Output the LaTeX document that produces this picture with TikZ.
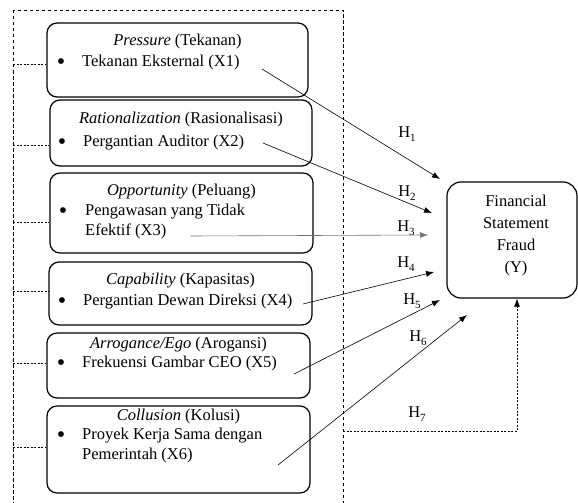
\documentclass[tikz,border=0pt]{standalone}
\usepackage{fontspec}
\setmainfont{Liberation Serif}
\usetikzlibrary{arrows.meta}
\begin{document}
\begin{tikzpicture}[x=1pt,y=-1pt,
  every node/.style={font=\fontsize{16.5}{19}\selectfont, inner sep=0pt},
  box/.style={draw, line width=1.2pt, rounded corners=10pt},
  yvar/.style={draw, line width=1.2pt, rounded corners=14pt},
  outer/.style={dash pattern=on 3.5pt off 2.5pt, line width=0.7pt},
  stub/.style={dash pattern=on 2pt off 1.5pt, line width=0.7pt},
  hyp/.style={line width=0.6pt, -{Latex[length=8pt,width=6pt]}},
  bul/.style={anchor=center, font=\fontsize{24}{24}\selectfont},
  itm/.style={anchor=mid west},
  ttl/.style={anchor=mid}]
\useasboundingbox (0,0) rectangle (578,503);
\clip (0,0) rectangle (578,503);
% outer dashed frame
\draw[outer] (13,10) rectangle (343,515);
% variable boxes
\node[box, minimum width=261pt, minimum height=74pt] (b1) at (177.5,60) {};
\node[box, minimum width=262pt, minimum height=66pt] (b2) at (181,133) {};
\node[box, minimum width=263pt, minimum height=80pt] (b3) at (181.5,213) {};
\node[box, minimum width=263pt, minimum height=63pt] (b4) at (180.5,293.5) {};
\node[box, minimum width=263pt, minimum height=65pt] (b5) at (178.5,365.5) {};
\node[box, minimum width=263pt, minimum height=87pt] (b6) at (178.5,449.5) {};
% dependent box
\node[yvar, minimum width=130pt, minimum height=116pt] (y) at (512,240) {};
% texts box 1
\node[ttl] (t1) at (177.5,43) {\textit{Pressure} (Tekanan)};
\node[bul] (p1) at (61,64) {•};
\node[itm] (i1) at (82,64) {Tekanan Eksternal (X1)};
% box 2
\node[ttl] (t2) at (181,121) {\textit{Rationalization} (Rasionalisasi)};
\node[bul] (p2) at (62,144) {•};
\node[itm] (i2) at (83,144) {Pergantian Auditor (X2)};
% box 3
\node[ttl] (t3) at (181.5,193) {\textit{Opportunity} (Peluang)};
\node[bul] (p3) at (63,213) {•};
\node[itm] (i3a) at (85,213) {Pengawasan yang Tidak};
\node[itm] (i3b) at (85,233) {Efektif (X3)};
% box 4
\node[ttl] (t4) at (180.5,282) {\textit{Capability} (Kapasitas)};
\node[bul] (p4) at (62,303) {•};
\node[itm] (i4) at (83,303) {Pergantian Dewan Direksi (X4)};
% box 5
\node[ttl] (t5) at (178.5,346) {\textit{Arrogance/Ego} (Arogansi)};
\node[bul] (p5) at (61,365) {•};
\node[itm] (i5) at (82,365) {Frekuensi Gambar CEO (X5)};
% box 6
\node[ttl] (t6) at (178.5,418) {\textit{Collusion} (Kolusi)};
\node[bul] (p6) at (61,437) {•};
\node[itm] (i6a) at (82,437) {Proyek Kerja Sama dengan};
\node[itm] (i6b) at (82,457) {Pemerintah (X6)};
% Y text
\node[ttl] (y1) at (516,204) {Financial};
\node[ttl] (y2) at (516,226) {Statement};
\node[ttl] (y3) at (516,248) {Fraud};
\node[ttl] (y4) at (516,270) {(Y)};
% dashed stubs
\coordinate (s1) at (13,64);
\coordinate (s2) at (13,145);
\coordinate (s3) at (13,222);
\coordinate (s4) at (13,291);
\coordinate (s5) at (13,363);
\coordinate (s6) at (13,447);
\draw[stub] (s1) -- (s1 -| b1.west);
\draw[stub] (s2) -- (s2 -| b2.west);
\draw[stub] (s3) -- (s3 -| b3.west);
\draw[stub] (s4) -- (s4 -| b4.west);
\draw[stub] (s5) -- (s5 -| b5.west);
\draw[stub] (s6) -- (s6 -| b6.west);
% hypothesis arrows
\coordinate (a1) at (262,69);  \coordinate (e1) at (440,179);
\coordinate (a2) at (263,143); \coordinate (e2) at (432,213);
\coordinate (a3) at (190,236); \coordinate (e3) at (428,235);
\coordinate (a4) at (303,304); \coordinate (e4) at (434,272);
\coordinate (a5) at (294,374); \coordinate (e5) at (440,300);
\coordinate (a6) at (278,465); \coordinate (e6) at (467,315);
\coordinate (a7) at (343,431); \coordinate (c7) at (517,431);
\draw[hyp] (a1) -- (e1);
\draw[hyp] (a2) -- (e2);
\draw[hyp, draw=black!55] (a3) -- (e3);
\draw[hyp] (a4) -- (e4);
\draw[hyp] (a5) -- (e5);
\draw[hyp] (a6) -- (e6);
\draw[hyp, stub] (a7) -- (c7) -- (c7 |- y.south);
% labels
\node (h1) at (407,134) {H\raisebox{-0.45ex}{\fontsize{11}{12}\selectfont 1}};
\node (h2) at (407,193) {H\raisebox{-0.45ex}{\fontsize{11}{12}\selectfont 2}};
\node (h3) at (406,228) {H\raisebox{-0.45ex}{\fontsize{11}{12}\selectfont 3}};
\node (h4) at (406,264) {H\raisebox{-0.45ex}{\fontsize{11}{12}\selectfont 4}};
\node (h5) at (412,301) {H\raisebox{-0.45ex}{\fontsize{11}{12}\selectfont 5}};
\node (h6) at (418,338) {H\raisebox{-0.45ex}{\fontsize{11}{12}\selectfont 6}};
\node (h7) at (417,414) {H\raisebox{-0.45ex}{\fontsize{11}{12}\selectfont 7}};
\end{tikzpicture}
\end{document}
